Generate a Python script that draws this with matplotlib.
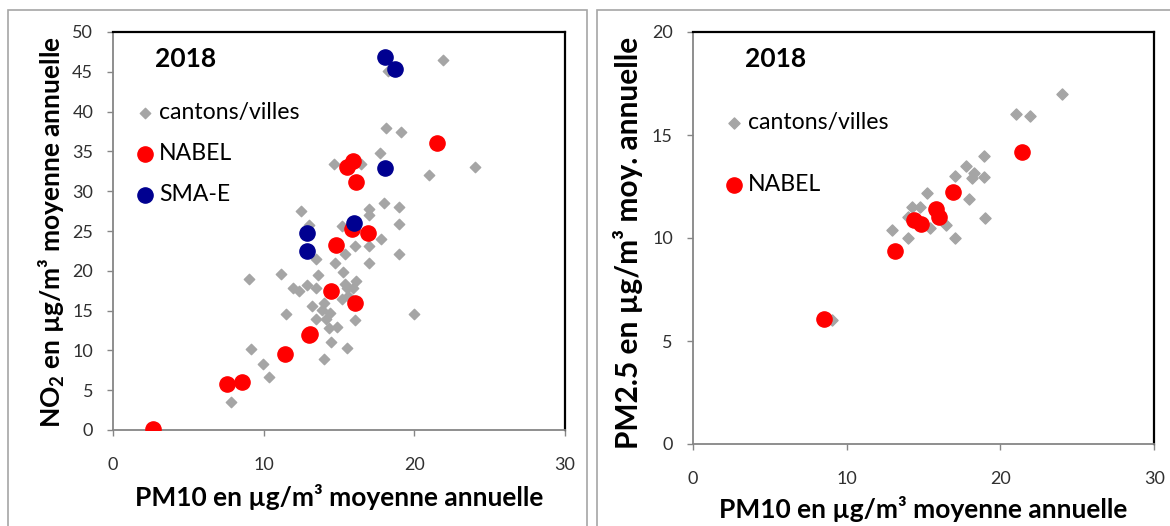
import matplotlib.pyplot as plt
from matplotlib.patches import Rectangle

plt.rcParams['font.family'] = ['Lato', 'DejaVu Sans']
plt.rcParams['mathtext.fontset'] = 'custom'
plt.rcParams['mathtext.rm'] = 'Lato'
plt.rcParams['mathtext.bf'] = 'Lato:bold'

# NO2 vs PM10 (left panel)
cant_pm10 = [18.25, 21.9, 18.1, 19.1, 17.75, 14.65, 16.44, 20.97, 24.0, 12.5,
             17.0, 17.0, 17.97, 18.98, 18.98, 13.0, 15.17, 17.8, 16.05, 17.0,
             18.98, 13.46, 15.38, 14.74, 17.0, 15.27, 13.6, 11.17, 9.0, 11.92,
             12.36, 12.89, 13.46, 15.38, 16.16, 15.5, 15.93, 15.17, 15.6, 14.0,
             13.18, 13.84, 14.39, 14.17, 13.46, 11.48, 19.97, 16.05, 14.35, 14.9,
             14.44, 15.56, 14.0, 9.14, 9.93, 10.37, 7.81]
cant_no2 = [45.1, 46.5, 37.9, 37.4, 34.8, 33.4, 33.4, 32.0, 33.0, 27.5,
            27.8, 27.0, 28.5, 28.0, 25.9, 25.8, 25.6, 24.0, 23.1, 23.1,
            22.1, 21.5, 22.1, 21.0, 21.0, 19.9, 19.5, 19.6, 19.0, 17.9,
            17.5, 18.2, 17.9, 18.4, 18.7, 17.8, 17.8, 16.4, 16.8, 16.0,
            15.6, 15.1, 14.7, 14.0, 14.0, 14.55, 14.55, 13.8, 12.8, 12.9,
            11.0, 10.3, 8.9, 10.15, 8.26, 6.63, 3.5]

nabel_pm10 = [21.5, 15.93, 15.5, 16.1, 15.83, 16.93, 14.83, 14.44, 16.05,
              13.0, 13.1, 11.43, 7.55, 8.54, 2.65]
nabel_no2 = [36.1, 33.75, 33.0, 31.2, 25.2, 24.7, 23.3, 17.4, 15.9,
             11.9, 12.1, 9.5, 5.75, 6.0, 0.1]

smae_pm10 = [18.03, 18.74, 18.03, 15.98, 12.9, 12.85]
smae_no2 = [46.9, 45.4, 32.9, 26.0, 24.8, 22.5]

# PM2.5 vs PM10 (right panel)
cant2_pm10 = [24.03, 20.98, 21.9, 18.96, 17.79, 18.28, 18.18, 18.96, 17.03, 15.25,
              17.96, 18.98, 14.25, 14.75, 14.0, 16.49, 15.4, 12.97, 14.0, 17.03, 9.07]
cant2_pm25 = [17.0, 16.0, 15.9, 14.0, 13.5, 13.14, 12.9, 12.98, 13.0, 12.2,
              11.9, 10.96, 11.5, 11.5, 11.03, 10.63, 10.47, 10.39, 9.98, 9.98, 6.02]

nabel2_pm10 = [21.4, 16.92, 15.79, 16.0, 14.36, 14.86, 13.12, 8.52]
nabel2_pm25 = [14.16, 12.25, 11.4, 11.0, 10.87, 10.68, 9.37, 6.07]

GRAY = '#a5a5a5'
RED = '#ff0000'
BLUE = '#000090'
AXGRAY = '#868686'
TXT = '#303030'

fig = plt.figure(figsize=(11.7, 5.26), dpi=100)
W, H = 1170, 526

# chart area frames
fig.patches.append(Rectangle((8 / W, -0.1), (587 - 8) / W, 1.1 - 10 / H, transform=fig.transFigure,
                             fill=False, edgecolor='#a6a6a6', lw=1.2))
fig.patches.append(Rectangle((597 / W, -0.1), 0.5, 1.1 - 10 / H, transform=fig.transFigure,
                             fill=False, edgecolor='#a6a6a6', lw=1.2))

ax1 = fig.add_axes([113 / W, (H - 430) / H, 452 / W, 398 / H])
ax2 = fig.add_axes([692.7 / W, (H - 444) / H, 461.6 / W, 412 / H])


def style(ax):
    for s in ['left', 'bottom']:
        ax.spines[s].set_color(AXGRAY)
        ax.spines[s].set_linewidth(1.3)
    for s in ['top', 'right']:
        ax.spines[s].set_color('black')
        ax.spines[s].set_linewidth(1.6)
    ax.tick_params(direction='out', length=4.3, width=1, color=AXGRAY,
                   labelcolor=TXT, labelsize=13)
    ax.tick_params(axis='x', pad=15)
    ax.tick_params(axis='y', pad=10)


# left panel
ax1.scatter(cant_pm10, cant_no2, marker='D', s=28, color=GRAY, label='cantons/villes', zorder=2)
ax1.scatter(nabel_pm10, nabel_no2, marker='o', s=120, color=RED, label='NABEL', zorder=3)
ax1.scatter(smae_pm10, smae_no2, marker='o', s=120, color=BLUE, label='SMA-E', zorder=4)
ax1.set_xlim(0, 30)
ax1.set_ylim(0, 50)
ax1.set_xticks([0, 10, 20, 30])
ax1.set_yticks(range(0, 51, 5))
style(ax1)
ax1.set_xlabel('PM10 en µg/m³ moyenne annuelle', fontsize=19, fontweight='bold')
ax1.xaxis.set_label_coords(0.5, -0.136)
ax1.set_ylabel(r'NO$_\mathbf{2}$ en µg/m³ moyenne annuelle', fontsize=19, fontweight='bold')
ax1.yaxis.set_label_coords(-0.1015, 0.497)
ax1.text(0.0927, 0.912, '2018', transform=ax1.transAxes, fontsize=19, fontweight='bold',
         va='baseline', ha='left')
ax1.legend(loc='upper left', bbox_to_anchor=(0.049, 0.823), frameon=False, fontsize=16.6,
           handlelength=0.84, handletextpad=0.19, labelspacing=0.855, borderpad=0,
           borderaxespad=0, scatterpoints=1)

# right panel
ax2.scatter(cant2_pm10, cant2_pm25, marker='D', s=32, color=GRAY, label='cantons/villes', zorder=2)
ax2.scatter(nabel2_pm10, nabel2_pm25, marker='o', s=120, color=RED, label='NABEL', zorder=3)
ax2.set_xlim(0, 30)
ax2.set_ylim(0, 20)
ax2.set_xticks([0, 10, 20, 30])
ax2.set_yticks([0, 5, 10, 15, 20])
style(ax2)
ax2.set_xlabel('PM10 en µg/m³ moyenne annuelle', fontsize=19, fontweight='bold')
ax2.xaxis.set_label_coords(0.5, -0.126)
ax2.set_ylabel('PM2.5 en µg/m³ moy. annuelle', fontsize=21.5, fontweight='bold')
ax2.yaxis.set_label_coords(-0.1066, 0.487)
ax2.text(0.113, 0.915, '2018', transform=ax2.transAxes, fontsize=19, fontweight='bold',
         va='baseline', ha='left')
ax2.legend(loc='upper left', bbox_to_anchor=(0.068, 0.806), frameon=False, fontsize=16.6,
           handlelength=0.84, handletextpad=0.19, labelspacing=1.77, borderpad=0,
           borderaxespad=0, scatterpoints=1)

fig.savefig('out.png', dpi=100)
